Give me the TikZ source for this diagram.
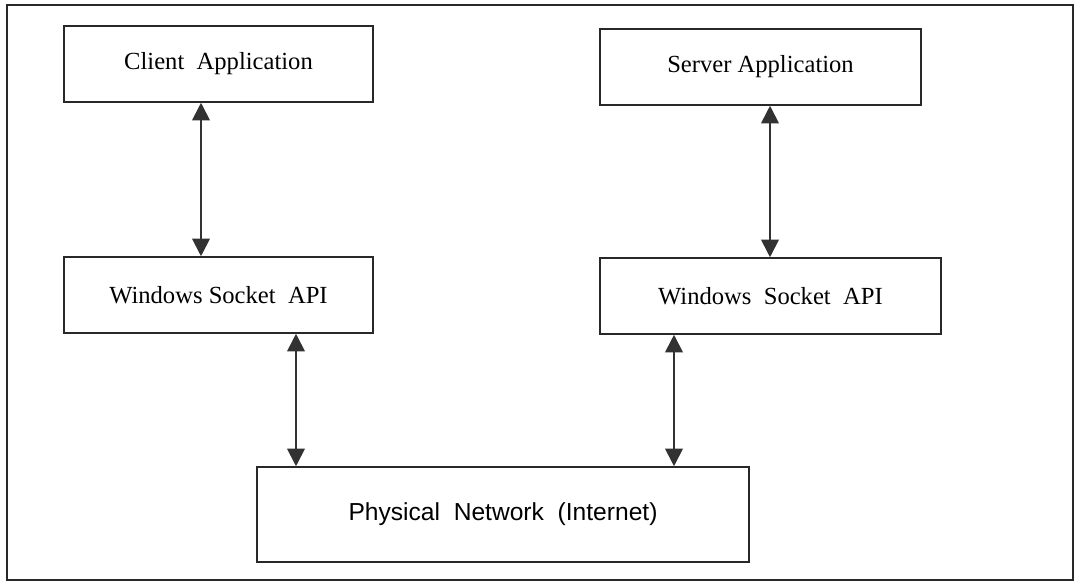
\documentclass[tikz,border=0pt]{standalone}
\usepackage{fontspec}
\setmainfont{Liberation Serif}
\setsansfont{Liberation Sans}
\usepackage{xcolor}
\usepackage{tikz}
\usetikzlibrary{arrows.meta,positioning}
\definecolor{edgegray}{RGB}{40,40,40}
\definecolor{tipgray}{RGB}{50,50,50}

\begin{document}
\begin{tikzpicture}[
    appbox/.style={draw=edgegray, line width=1.1pt, fill=white,
        minimum width=#1, minimum height=1.9cm, inner sep=0pt,
        font=\fontsize{17.5}{20}\selectfont},
    netbox/.style={draw=edgegray, line width=1.1pt, fill=white,
        minimum width=12.3cm, minimum height=2.375cm, inner sep=0pt,
        font=\fontsize{17.5}{20}\selectfont\sffamily},
    arrw/.style={{Triangle[length=0.44cm,width=0.44cm]}-{Triangle[length=0.44cm,width=0.44cm]},
        tipgray, line width=1.3pt},
    frame/.style={draw=edgegray, line width=1.2pt},
]
\useasboundingbox[fill=white] (0,0) rectangle (26.875,-14.575);

% === OUTER FRAME ===
\draw[frame] (0.175,-0.125) rectangle (26.825,-14.5);

% === APPLICATIONS ===
\node[appbox=7.725cm] (client) at (5.4625, -1.6) {Client\ \ Application};
\node[appbox=8.025cm] (server) at (19.0125, -1.675) {Server Application};

% === SOCKET LAYER ===
\node[appbox=7.725cm] (sockl) at (5.4625, -7.375) {Windows Socket\ \ API};
\node[appbox=8.525cm] (sockr) at (19.2625, -7.4) {Windows\ \ Socket\ \ API};

% === NETWORK ===
\node[netbox] (net) at (12.575, -12.8625) {Physical\ \ Network\ \ (Internet)};

% === ARROWS ===
\draw[arrw] ([xshift=-0.4375cm]client.south) -- ([xshift=-0.4375cm]sockl.north);
\draw[arrw] ([xshift=0.2375cm]server.south) -- ([xshift=-0.0125cm]sockr.north);
\draw[arrw] ([xshift=1.9375cm]sockl.south) -- ([xshift=-5.175cm]net.north);
\draw[arrw] ([xshift=-2.4125cm]sockr.south) -- ([xshift=4.275cm]net.north);

\end{tikzpicture}
\end{document}
